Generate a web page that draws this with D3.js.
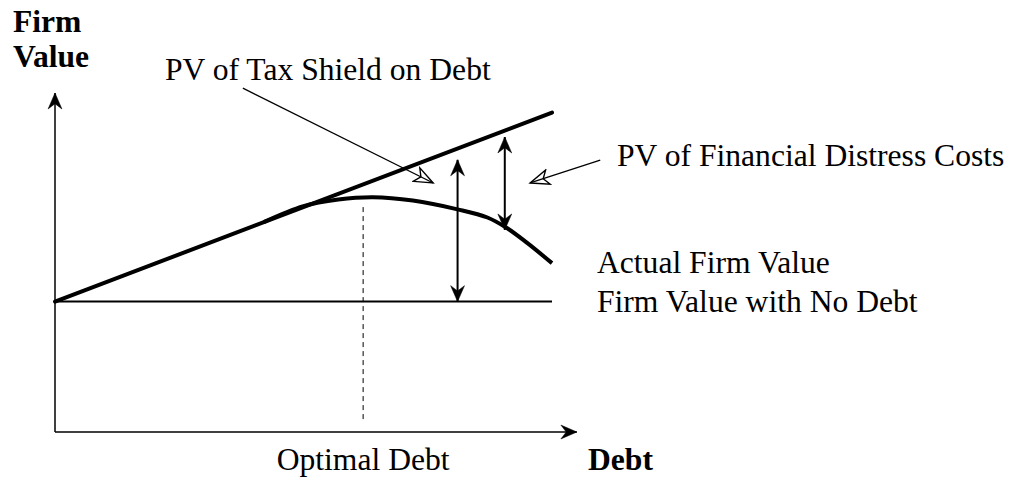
<!DOCTYPE html>
<html>
<head>
<meta charset="utf-8">
<script src="https://cdn.jsdelivr.net/npm/d3@7"></script>
<style>
  body { margin: 0; background: #fff; }
  svg text { font-family: "Liberation Serif", "Times New Roman", serif; font-size: 31.6px; fill: #000; }
  .bold { font-weight: bold; }
</style>
</head>
<body>
<svg id="chart" width="1015" height="481"></svg>
<script>
// Valeurs (unités du graphique : dette en x, valeur de la firme en y)
const noDebtValue = 4;
const taxLineDebt = [0, 10];
const taxLineValue = [4, 9.8];
const curveDebt = [4.2, 5.0, 5.7, 6.4, 7.2, 8.1, 8.7, 9.1, 9.5, 10];
const curveValue = [6.44, 6.93, 7.13, 7.2, 7.1, 6.83, 6.58, 6.25, 5.8, 5.18];
const optimalDebt = 6.2;
const gapDebt = [8.1, 9.05];
const gapFrom = [4, 6.2];
const gapTo = [8.35, 9.05];

const svg = d3.select("#chart");
const x = d3.scaleLinear().domain([0, 10]).range([55, 552]);
const y = d3.scaleLinear().domain([0, 10.4]).range([432, 93]);

// Marqueurs de flèches
const defs = svg.append("defs");
function marker(id, path, fill, size) {
  defs.append("marker")
    .attr("id", id)
    .attr("viewBox", "-16 -8 18 16")
    .attr("refX", 0).attr("refY", 0)
    .attr("markerUnits", "userSpaceOnUse")
    .attr("markerWidth", size * 18 / 16).attr("markerHeight", size)
    .attr("orient", "auto-start-reverse")
    .append("path")
    .attr("d", path)
    .attr("fill", fill ? "#000" : "none")
    .attr("stroke", "#000")
    .attr("stroke-width", fill ? 0.5 : 1.1);
}
marker("solid", "M0,0 L-15,-6.5 L-10,0 L-15,6.5 Z", true, 17);
marker("open", "M0,0 L-15,-6 L-11,0 L-15,6 Z", false, 20);

// Axes
svg.append("line")
  .attr("x1", x(0)).attr("y1", y(0)).attr("x2", x(0)).attr("y2", y(10.4))
  .attr("stroke", "#000").attr("stroke-width", 1.5)
  .attr("marker-end", "url(#solid)");
svg.append("line")
  .attr("x1", x(0)).attr("y1", y(0)).attr("x2", x(10.5)).attr("y2", y(0))
  .attr("stroke", "#000").attr("stroke-width", 1.5)
  .attr("marker-end", "url(#solid)");

// Valeur sans dette
svg.append("line")
  .attr("x1", x(0)).attr("y1", y(noDebtValue)).attr("x2", x(10)).attr("y2", y(noDebtValue))
  .attr("stroke", "#000").attr("stroke-width", 2);

// Droite avec bouclier fiscal
svg.append("path")
  .datum(d3.zip(taxLineDebt, taxLineValue))
  .attr("d", d3.line().x(d => x(d[0])).y(d => y(d[1])))
  .attr("fill", "none").attr("stroke", "#000").attr("stroke-width", 4)
  .attr("stroke-linecap", "round");

// Valeur réelle
svg.append("path")
  .datum(d3.zip(curveDebt, curveValue))
  .attr("d", d3.line().curve(d3.curveCatmullRom).x(d => x(d[0])).y(d => y(d[1])))
  .attr("fill", "none").attr("stroke", "#000").attr("stroke-width", 4);

// Dette optimale
svg.append("line")
  .attr("x1", x(optimalDebt)).attr("y1", y(6.9)).attr("x2", x(optimalDebt)).attr("y2", y(0.3))
  .attr("stroke", "#000").attr("stroke-width", 1).attr("stroke-dasharray", "5,4");

// Flèches doubles
gapDebt.forEach((d, i) => {
  svg.append("line")
    .attr("x1", x(d)).attr("y1", y(gapFrom[i])).attr("x2", x(d)).attr("y2", y(gapTo[i]))
    .attr("stroke", "#000").attr("stroke-width", 2)
    .attr("marker-start", "url(#solid)").attr("marker-end", "url(#solid)");
});

// Flèches d'annotation
const leaders = [
  [[3.78, 10.55], [7.61, 7.64]],
  [[10.97, 8.34], [9.56, 7.64]]
];
leaders.forEach(l => {
  svg.append("line")
    .attr("x1", x(l[0][0])).attr("y1", y(l[0][1])).attr("x2", x(l[1][0])).attr("y2", y(l[1][1]))
    .attr("stroke", "#000").attr("stroke-width", 1.3)
    .attr("marker-end", "url(#open)");
});

// Textes
svg.append("text").attr("class", "bold").attr("x", 13).attr("y", 32).text("Firm");
svg.append("text").attr("class", "bold").attr("x", 13).attr("y", 67).text("Value");
svg.append("text").attr("x", 165).attr("y", 80).text("PV of Tax Shield on Debt");
svg.append("text").attr("x", 617).attr("y", 166).text("PV of Financial Distress Costs");
svg.append("text").attr("x", 597).attr("y", 273).text("Actual Firm Value");
svg.append("text").attr("x", 597).attr("y", 312).text("Firm Value with No Debt");
svg.append("text").attr("x", x(optimalDebt)).attr("y", 470).attr("text-anchor", "middle").text("Optimal Debt");
svg.append("text").attr("class", "bold").attr("x", 588).attr("y", 470).text("Debt");
</script>
</body>
</html>
